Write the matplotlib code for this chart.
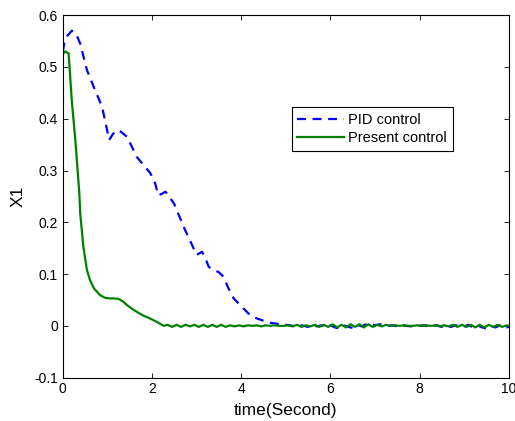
import matplotlib.pyplot as plt
from matplotlib.ticker import FuncFormatter

plt.rcParams['font.family'] = ['Liberation Sans', 'DejaVu Sans']

# PID control (blue dashed)
pid_t = [0, 0.03, 0.1, 0.2, 0.3, 0.39, 0.54, 0.69, 0.88, 1.04, 1.12, 1.21, 1.3,
         1.44, 1.66, 1.96, 2.07, 2.14, 2.22, 2.3, 2.37, 2.5, 2.71, 2.85, 3.0,
         3.06, 3.12, 3.2, 3.27, 3.38, 3.49, 3.6, 3.7, 3.83, 4.0, 4.16, 4.3,
         4.46, 4.65, 4.87, 5.0,
         5.1, 5.2, 5.3, 5.4, 5.5, 5.6, 5.7, 5.8, 5.9, 6.0,
         6.1, 6.2, 6.3, 6.4, 6.5, 6.6, 6.7, 6.8, 6.9, 7.0,
         7.1, 7.2, 7.3, 7.4, 7.5, 7.6, 7.7, 7.8, 7.9, 8.0,
         8.1, 8.2, 8.3, 8.4, 8.5, 8.6, 8.7, 8.8, 8.9, 9.0,
         9.1, 9.2, 9.3, 9.4, 9.5, 9.6, 9.7, 9.8, 9.9, 10.0]
pid_x1 = [0.53, 0.545, 0.56, 0.57, 0.563, 0.545, 0.494, 0.462, 0.423, 0.359,
          0.37, 0.378, 0.375, 0.365, 0.326, 0.295, 0.275, 0.252, 0.255, 0.259,
          0.252, 0.235, 0.191, 0.165, 0.137, 0.14, 0.143, 0.13, 0.114, 0.108,
          0.104, 0.095, 0.075, 0.053, 0.038, 0.024, 0.016, 0.011, 0.006, 0.003,
          0.002,
          0.001, -0.001, 0.002, 0.0, -0.002, 0.002, -0.001, 0.001, -0.002, 0.001,
          -0.003, -0.005, 0.001, -0.002, -0.004, 0.002, -0.001, 0.003, 0.004, 0.001,
          0.003, 0.002, 0.0, 0.001, -0.001, 0.001, 0.0, -0.001, 0.001, 0.0,
          0.001, -0.001, 0.0, 0.001, -0.002, 0.001, -0.002, 0.001, 0.0, -0.001,
          0.002, -0.004, 0.001, -0.003, -0.005, -0.001, -0.003, 0.001, -0.004, -0.002]

# Present control (green solid)
pre_t = [0, 0.05, 0.13, 0.2, 0.28, 0.37, 0.39, 0.46, 0.54, 0.61, 0.7, 0.84,
         0.95, 1.06, 1.15, 1.25, 1.35, 1.44, 1.55, 1.66, 1.8, 1.96, 2.1, 2.26,
         2.35, 2.45, 2.55, 2.65, 2.75, 2.85, 2.95, 3.05, 3.15, 3.25, 3.35, 3.45,
         3.55, 3.65, 3.75, 3.85, 3.95, 4.05, 4.15, 4.25, 4.35, 4.45, 4.55, 4.65,
         4.75, 4.85, 4.95, 5.05, 5.15, 5.25, 5.35, 5.45, 5.55, 5.65, 5.75, 5.85,
         5.95, 6.05, 6.15, 6.25, 6.35, 6.45, 6.55, 6.65, 6.75, 6.85, 6.95, 7.05,
         7.15, 7.25, 7.35, 7.45, 7.55, 7.65, 7.75, 7.85, 7.95, 8.05, 8.15, 8.25,
         8.35, 8.45, 8.55, 8.65, 8.75, 8.85, 8.95, 9.05, 9.15, 9.25, 9.35, 9.45,
         9.55, 9.65, 9.75, 9.85, 9.95, 10.0]
pre_x1 = [0.525, 0.53, 0.526, 0.436, 0.359, 0.256, 0.217, 0.153, 0.108, 0.088,
          0.072, 0.059, 0.054, 0.053, 0.053, 0.052, 0.047, 0.04, 0.033, 0.027,
          0.02, 0.014, 0.008, 0.0,
          0.002, -0.002, 0.002, -0.002, 0.002, -0.001, 0.002, -0.002, 0.002, -0.002,
          0.002, -0.002, 0.002, -0.002, 0.001, -0.001, 0.001, -0.001, 0.001, 0.0,
          0.001, -0.001, 0.001, 0.0, 0.001, 0.0, 0.0, 0.001, -0.001, 0.002,
          -0.002, 0.001, -0.001, 0.002, -0.002, 0.002, -0.002, 0.003, -0.003, 0.002,
          -0.003, 0.003, -0.002, 0.003, -0.003, 0.003, -0.002, 0.002, -0.001, 0.002,
          0.0, 0.001, 0.0, 0.001, 0.0, 0.0, 0.001, 0.0, 0.001, 0.0,
          0.001, -0.001, 0.001, -0.001, 0.002, -0.002, 0.002, -0.002, 0.002, -0.003,
          0.002, -0.003, 0.002, -0.002, 0.002, -0.002, 0.001, 0.0]

x_ticks = [0, 2, 4, 6, 8, 10]
y_ticks = [-0.1, 0, 0.1, 0.2, 0.3, 0.4, 0.5, 0.6]

fig = plt.figure(figsize=(5.15, 4.21), dpi=100)
ax = fig.add_axes([0.122, 0.103, 0.866, 0.861])

ax.plot(pid_t, pid_x1, linestyle='--', color='#0000ff', linewidth=1.6,
        dashes=(4, 3), label='PID control')
ax.plot(pre_t, pre_x1, linestyle='-', color='#008000', linewidth=1.6,
        label='Present control')

ax.set_xlim(0, 10)
ax.set_ylim(-0.1, 0.6)
ax.set_xticks(x_ticks)
ax.set_yticks(y_ticks)
ax.yaxis.set_major_formatter(FuncFormatter(lambda v, p: '0' if abs(v) < 1e-9 else '%g' % v))
ax.tick_params(direction='in', top=True, right=True, labelsize=10, length=3.5, width=0.6)
for s in ax.spines.values():
    s.set_linewidth(0.8)

ax.set_xlabel('time(Second)', fontsize=12.5, labelpad=5)
ax.set_ylabel('X1', fontsize=12.5, labelpad=6)

leg = ax.legend(loc='upper left', bbox_to_anchor=(0.513, 0.747), fontsize=10.5,
                frameon=True, fancybox=False, framealpha=1, edgecolor='black',
                handlelength=3.2, borderpad=0.4, labelspacing=0.3, handletextpad=0.3,
                borderaxespad=0)
leg.get_frame().set_linewidth(0.8)

fig.savefig('out.png', dpi=100)
